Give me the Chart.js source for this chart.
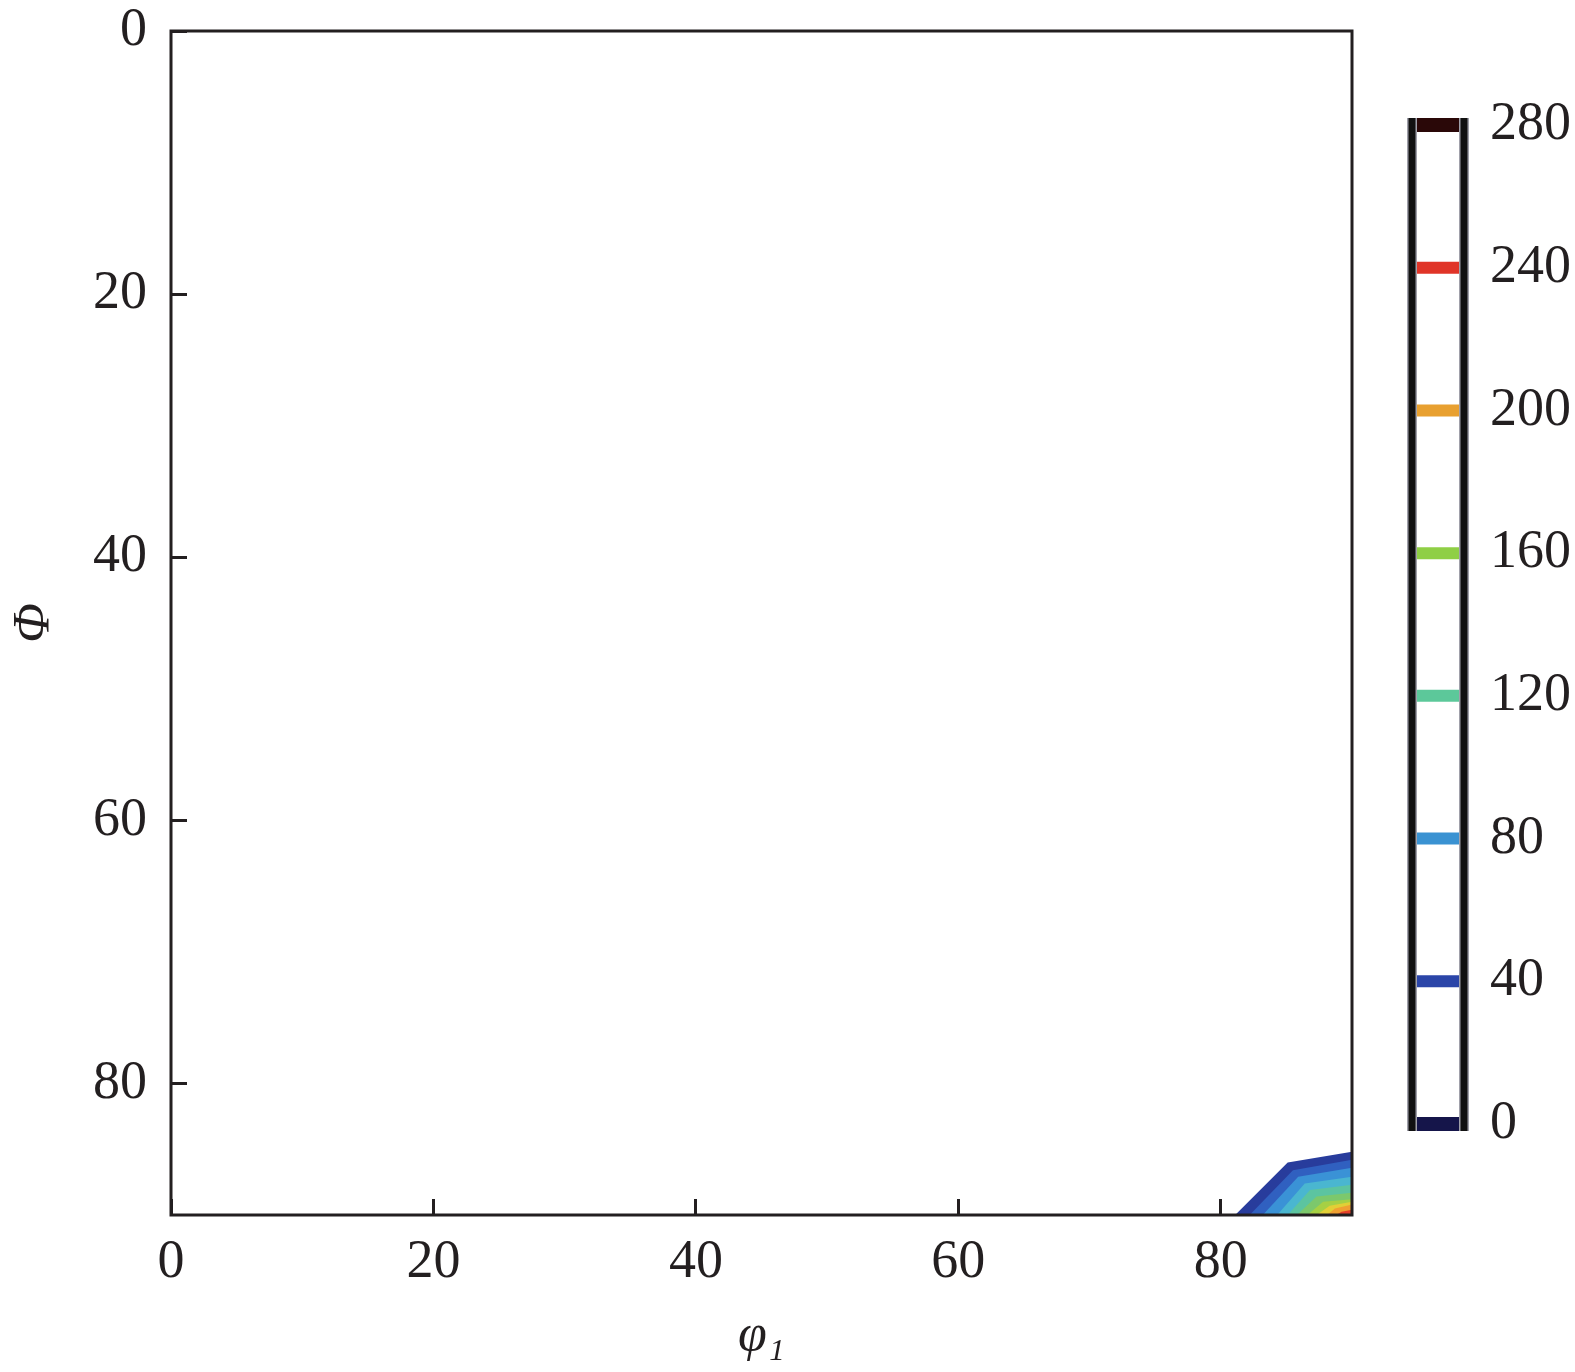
<!DOCTYPE html>
<html>
<head>
<meta charset="utf-8">
<script src="https://cdn.jsdelivr.net/npm/chart.js@4.4.1/dist/chart.umd.min.js"></script>
<style>
  body { margin: 0; background: #fff; width: 1575px; height: 1372px; position: relative; overflow: hidden; }
  #mainWrap { position: absolute; left: 0; top: 0; width: 1380px; height: 1372px; }
  #barWrap { position: absolute; left: 1380px; top: 0; width: 195px; height: 1372px; }
</style>
</head>
<body>
<div id="mainWrap"><canvas id="odfChart"></canvas></div>
<div id="barWrap"><canvas id="barChart"></canvas></div>
<script>
// axis ticks
var phi1Ticks = [0, 20, 40, 60, 80];
var PhiTicks = [0, 20, 40, 60, 80];

// contour boundaries in the corner (phi1, Phi), outermost first
var contourPhi1 = [
    [81.1, 85.1, 90],
    [82.2, 85.5, 90],
    [83.2, 85.9, 90],
    [84.3, 86.4, 90],
    [85.1, 86.8, 90],
    [85.8, 87.3, 90],
    [86.6, 87.8, 90],
    [87.3, 88.3, 90],
    [88.1, 88.7, 90],
    [88.8, 89.2, 90]
];
var contourPhi = [
    [90, 86.0, 85.2],
    [90, 86.6, 85.8],
    [90, 87.1, 86.4],
    [90, 87.6, 87.1],
    [90, 88.1, 87.7],
    [90, 88.6, 88.3],
    [90, 89.0, 88.8],
    [90, 89.3, 89.0],
    [90, 89.5, 89.2],
    [90, 89.75, 89.6]
];
var contourColors = ['#283c9c', '#3060c0', '#3a92d6', '#4ab6d0', '#5cc4a0',
                     '#7cc86c', '#a6d044', '#e2cf36', '#f0a032', '#e5402a'];

// colour bar
var barLevels = [0, 40, 80, 120, 160, 200, 240, 280];
var barColors = ['#15154a', '#2b45a8', '#3a92d2', '#5cc89a', '#8fcf45', '#e8a030', '#e03428', '#2a0808'];

var serif = "'Liberation Serif', 'Times New Roman', serif";
var ink = '#231f20';

var frame = {
    id: 'frame',
    afterDraw: function(chart) {
        var a = chart.chartArea, c = chart.ctx;
        c.save();
        c.strokeStyle = ink;
        c.lineWidth = 3;
        c.strokeRect(a.left, a.top, a.right - a.left, a.bottom - a.top);
        c.restore();
    }
};

// chart.js paints dataset 0 on top, so the innermost contour goes first
var contourSets = [];
for (var i = contourPhi1.length - 1; i >= 0; i--) {
    contourSets.push({
        data: contourPhi1[i].map(function(x, j) { return { x: x, y: contourPhi[i][j] }; }),
        borderWidth: 0,
        borderColor: contourColors[i],
        backgroundColor: contourColors[i],
        pointRadius: 0,
        tension: 0,
        fill: { value: 90 }
    });
}

var odfConfig = {
    type: 'line',
    data: { datasets: contourSets },
    options: {
        responsive: true,
        maintainAspectRatio: false,
        animation: false,
        layout: { padding: { left: 0, top: 31, right: 28, bottom: 0 } },
        scales: {
            x: {
                type: 'linear',
                min: 0,
                max: 90,
                afterBuildTicks: function(s) { s.ticks = phi1Ticks.map(function(v) { return { value: v }; }); },
                afterFit: function(s) { s.height = 157; s.paddingLeft = 0; s.paddingRight = 0; },
                grid: { drawOnChartArea: false, tickLength: -16, tickWidth: 3, tickColor: ink },
                border: { display: false },
                ticks: { color: ink, padding: 31, maxRotation: 0, font: { family: serif, size: 54 } },
                title: {
                    display: true,
                    text: 'φ₁',
                    color: ink,
                    padding: { top: 18 },
                    font: { family: serif, size: 52, style: 'italic' }
                }
            },
            y: {
                type: 'linear',
                reverse: true,
                min: 0,
                max: 90,
                afterBuildTicks: function(s) { s.ticks = PhiTicks.map(function(v) { return { value: v }; }); },
                afterFit: function(s) { s.width = 171; s.paddingTop = 0; s.paddingBottom = 0; },
                grid: { drawOnChartArea: false, tickLength: -16, tickWidth: 3, tickColor: ink },
                border: { display: false },
                ticks: { color: ink, padding: 40, font: { family: serif, size: 54 } },
                title: {
                    display: true,
                    text: 'Φ',
                    color: ink,
                    padding: { bottom: 0 },
                    font: { family: serif, size: 52, style: 'italic' }
                }
            }
        },
        plugins: {
            legend: { display: false },
            tooltip: { enabled: false }
        }
    },
    plugins: [frame]
};

var odf = document.getElementById('odfChart').getContext('2d');
var odfChart = new Chart(odf, odfConfig);

// colour bar: one thick line per level, the 0 and 280 lines close the box
var barSides = {
    id: 'barSides',
    afterDatasetsDraw: function(chart) {
        var a = chart.chartArea, c = chart.ctx;
        c.save();
        [a.left, a.right].forEach(function(x) {
            c.beginPath();
            c.moveTo(x, a.top - 7);
            c.lineTo(x, a.bottom + 7);
            c.strokeStyle = '#a0a0aa';
            c.lineWidth = 10;
            c.stroke();
            c.strokeStyle = '#111';
            c.lineWidth = 7;
            c.stroke();
        });
        c.restore();
    }
};

var barSets = barLevels.map(function(v, i) {
    var edge = (v === 0 || v === 280);
    return {
        data: [{ x: 0, y: v }, { x: 1, y: v }],
        borderColor: barColors[i],
        borderWidth: edge ? 14 : 12,
        pointRadius: 0,
        clip: edge ? false : 0,
        fill: false
    };
});

var barConfig = {
    type: 'line',
    data: { datasets: barSets },
    options: {
        responsive: true,
        maintainAspectRatio: false,
        animation: false,
        layout: { padding: { left: 32, top: 125, right: 0, bottom: 248 } },
        scales: {
            x: { type: 'linear', min: 0, max: 1, display: false },
            y: {
                position: 'right',
                min: 0,
                max: 280,
                afterBuildTicks: function(s) { s.ticks = barLevels.map(function(v) { return { value: v }; }); },
                afterFit: function(s) { s.width = 111; s.paddingTop = 0; s.paddingBottom = 0; },
                grid: { display: false },
                border: { display: false },
                ticks: { color: ink, padding: 18, font: { family: serif, size: 54 } }
            }
        },
        plugins: {
            legend: { display: false },
            tooltip: { enabled: false }
        }
    },
    plugins: [barSides]
};

var bar = document.getElementById('barChart').getContext('2d');
var barChart = new Chart(bar, barConfig);
</script>
</body>
</html>
